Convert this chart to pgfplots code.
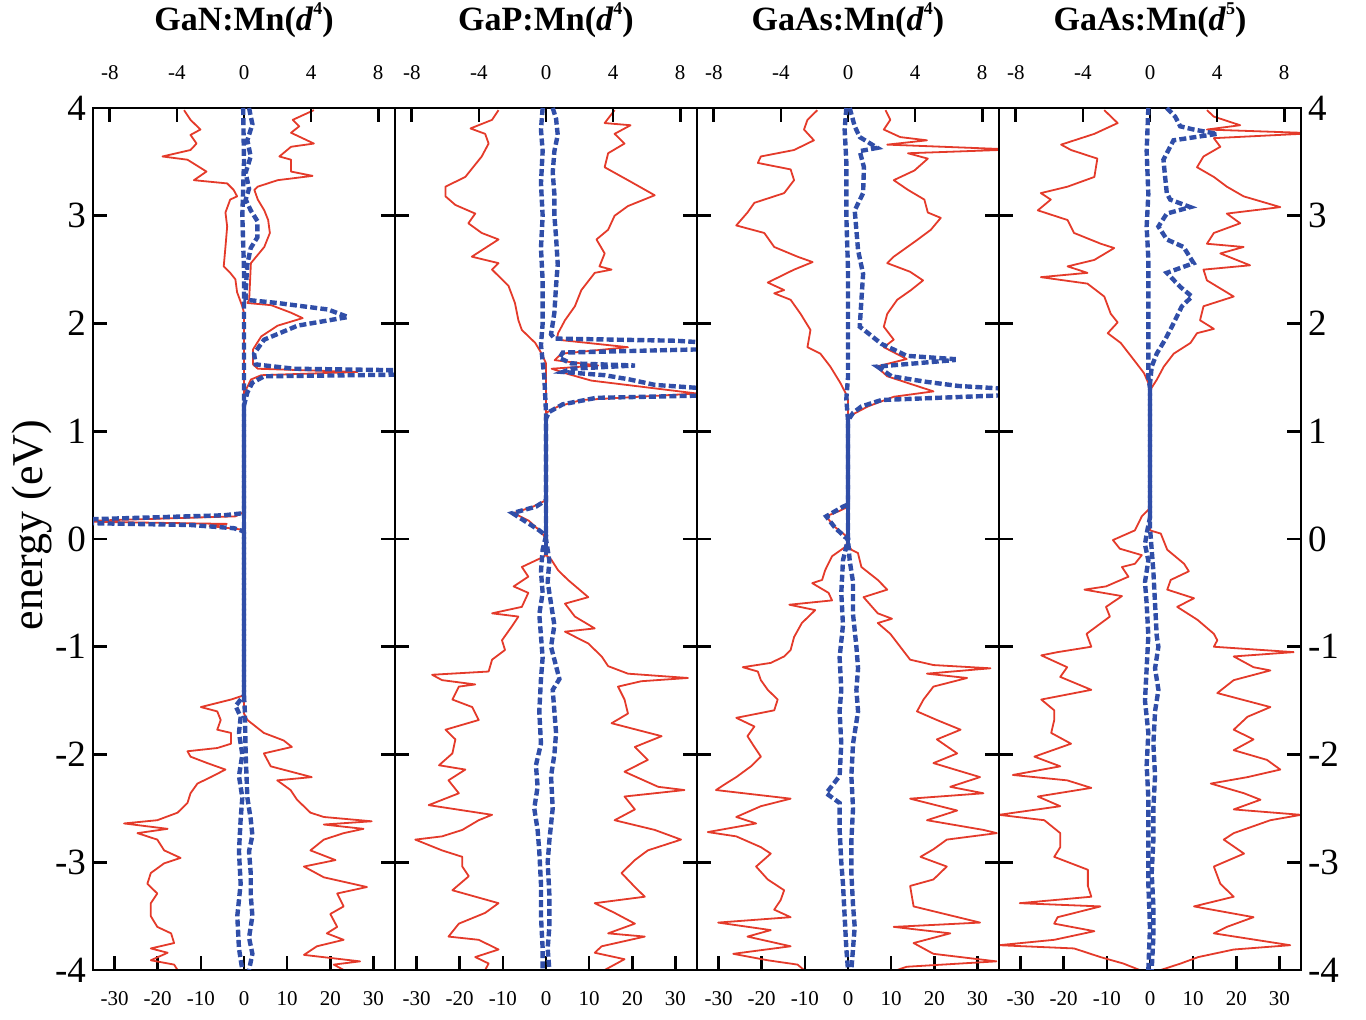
\documentclass[border=0pt]{standalone}
\usepackage{fontspec}
\setmainfont{Liberation Serif}
\usepackage{pgfplots}
\pgfplotsset{compat=1.18}
\definecolor{dosred}{RGB}{228,58,42}
\definecolor{dosblue}{RGB}{48,78,168}

\pgfplotsset{
  panel/.style={scale only axis, width=151pt, height=431pt, ymin=-4, ymax=4,
    anchor=south west, tick align=inside, major tick length=7pt,
    axis line style={line width=1.4pt},
    xtick style={line width=1.3pt, black},
    ytick style={line width=1.3pt, black},
    tick label style={/pgf/number format/assume math mode=true}},
  totdos/.style={panel, xmin=-35, xmax=35, xtick={-30,-20,...,30},
    xtick pos=bottom, ytick={-4,...,4}, ytick pos=both,
    xticklabel style={font=\fontsize{10.5}{12}\selectfont, anchor=base, yshift=-18pt},
    yticklabel style={font=\fontsize{18.5}{22}\selectfont}},
  mndos/.style={panel, xmin=-9, xmax=9, xtick={-8,-4,...,8},
    xtick pos=top, xticklabel pos=top, ytick=\empty,
    xticklabel style={font=\fontsize{10.5}{12}\selectfont, anchor=base, yshift=14pt},
    every axis title/.style={at={(axis description cs:0.5,1)}, anchor=center,
      yshift=44pt, font=\fontsize{17}{20}\selectfont\bfseries}},
  redline/.style={dosred, line width=0.9pt, line join=round},
  blueline/.style={dosblue, line width=2.2pt, dash pattern=on 3.5pt off 1.6pt},
  bluesolid/.style={dosblue, line width=2pt},
}
\newcommand{\supnum}[1]{\raisebox{1.0ex}{\fontsize{9}{9}\selectfont #1}}

\begin{document}
\begin{tikzpicture}
\path[use as bounding box] (0,0) rectangle (683pt,510pt);

% ---------------- GaN:Mn(d4) ----------------
\begin{axis}[totdos, at={(46.5pt,25pt)}, yticklabel pos=left,
  ylabel={energy (eV)},
  every axis y label/.style={at={(axis description cs:-0.202,0.516)},
    rotate=90, anchor=center, font=\fontsize{22}{26}\selectfont}]
% spin up total
\addplot[redline] coordinates {
(16.2,3.98)(11.3,3.89)(12.8,3.83)(10.9,3.77)(16.2,3.67)(10.9,3.64)(8.2,3.55)(10.9,3.52)
(10.9,3.41)(15.9,3.37)(7.8,3.33)(3.2,3.27)(2.4,3.24)(3.2,3.15)(4.7,3.05)(5.6,2.96)
(6.0,2.84)(4.7,2.71)(1.6,2.56)(1.2,2.22)(0.8,2.19)(6.3,2.17)(10.9,2.10)(13.6,2.05)
(7.8,1.98)(4.0,1.88)(2.1,1.76)(2.1,1.62)(3.2,1.58)(26.3,1.55)(4.0,1.52)(1.6,1.48)
(0.4,1.38)(0,1.29)(0,-1.62)(0.8,-1.68)(4.6,-1.80)(9.2,-1.87)(11.1,-1.93)(4.6,-1.99)
(6.2,-2.11)(15.7,-2.21)(7.7,-2.24)(10.8,-2.33)(12.3,-2.42)(15.4,-2.54)(18.5,-2.58)
(29.6,-2.62)(18.5,-2.65)(27.7,-2.69)(23.1,-2.73)(18.5,-2.79)(15.4,-2.89)(21.2,-2.98)
(13.9,-3.04)(18.5,-3.14)(28.5,-3.23)(21.6,-3.29)(23.1,-3.41)(20.0,-3.48)(21.6,-3.60)
(19.2,-3.66)(23.1,-3.72)(16.9,-3.78)(13.9,-3.86)(26.9,-3.92)(20.8,-3.95)(23.1,-4.0)
};
% spin down total
\addplot[redline] coordinates {
(-13.9,3.98)(-12.4,3.89)(-10.1,3.80)(-12.4,3.75)(-11,3.67)(-12.4,3.61)(-18.9,3.55)
(-13.1,3.52)(-8.7,3.41)(-11.6,3.33)(-3.9,3.30)(-2.4,3.24)(-1.6,3.18)(-3.2,3.15)
(-4.3,3.03)(-3.9,2.90)(-4.3,2.71)(-4.7,2.53)(-3.2,2.47)(-2.0,2.41)(-1.6,2.29)
(-0.4,2.16)(0,2.10)(0,0.25)(-2,0.21)(-35,0.17)(-35,0.16)(-4,0.14)(-8,0.12)(-1,0.09)
(0,0.07)(0,-1.45)(-3.0,-1.49)(-10.0,-1.56)(-6.2,-1.60)(-5.4,-1.68)(-6.2,-1.77)
(-3.0,-1.80)(-3.0,-1.90)(-6.2,-1.94)(-13.1,-1.97)(-12.4,-2.02)(-8.5,-2.08)(-4.3,-2.14)
(-7.7,-2.21)(-10.8,-2.27)(-12.4,-2.36)(-13.1,-2.45)(-15.4,-2.54)(-20.1,-2.61)
(-27.8,-2.64)(-17.7,-2.69)(-24.7,-2.73)(-20.1,-2.79)(-18.5,-2.89)(-14.7,-2.96)
(-18.5,-3.01)(-21.6,-3.10)(-22.4,-3.20)(-20.1,-3.29)(-21.6,-3.38)(-21.6,-3.50)
(-20.1,-3.60)(-16.9,-3.66)(-16.2,-3.75)(-21.6,-3.80)(-17.7,-3.84)(-21.6,-3.91)
(-16.2,-3.95)(-15.4,-4.0)
};
\end{axis}
\begin{axis}[mndos, at={(46.5pt,25pt)}, title={GaN:Mn(\textit{d}\supnum{4})}]
\addplot[blueline] coordinates {
(0.3,4.0)(0.5,3.85)(0.2,3.7)(0.4,3.55)(0.1,3.4)(0.3,3.25)(0.1,3.15)(0.4,3.05)
(0.8,2.95)(0.8,2.8)(0.4,2.7)(0.2,2.55)(0.1,2.3)(0.1,2.22)(2.0,2.19)(5.0,2.13)
(6.2,2.06)(3.2,1.98)(1.2,1.85)(0.6,1.72)(0.7,1.62)(3,1.58)(12,1.56)(12,1.53)
(1.2,1.51)(0.5,1.45)(0.2,1.36)(0,1.24)(0,-1.45)(0.05,-1.6)(0.1,-2.0)(0.2,-2.4)
(0.4,-2.6)(0.5,-2.75)(0.3,-2.9)(0.4,-3.1)(0.4,-3.3)(0.5,-3.5)(0.3,-3.7)(0.5,-3.85)
(0.3,-4.0)
};
\addplot[blueline] coordinates {
(-0.05,4.0)(0,3.5)(-0.1,3.0)(0,2.5)(0,0.24)(-1.2,0.22)(-12,0.17)(-12,0.155)
(-3.2,0.13)(-0.6,0.10)(0,0.07)(0,-1.45)(-0.5,-1.55)(-0.2,-1.65)(-0.3,-1.8)
(-0.1,-2.0)(-0.3,-2.2)(-0.1,-2.4)(-0.2,-2.6)(-0.3,-2.9)(-0.2,-3.2)(-0.4,-3.5)
(-0.3,-3.8)(-0.1,-4.0)
};
\addplot[bluesolid] coordinates {(0,-1.45)(0,1.24)};
\end{axis}

% ---------------- GaP:Mn(d4) ----------------
\begin{axis}[totdos, at={(197.5pt,25pt)}, yticklabels={}]
\addplot[redline] coordinates {
(15.9,3.98)(13.6,3.86)(19.6,3.84)(15.9,3.76)(18.2,3.67)(14.4,3.58)(13.6,3.45)
(19.0,3.33)(25.2,3.19)(19.0,3.09)(15.9,3.0)(14.4,2.87)(11.7,2.78)(13.6,2.65)
(12.4,2.53)(15.2,2.50)(11.3,2.47)(8.2,2.31)(6.7,2.16)(4.4,2.03)(2.8,1.91)(2.5,1.85)
(19.0,1.78)(3.6,1.72)(2.0,1.66)(12.1,1.61)(1.3,1.58)(5.2,1.53)(10.5,1.47)(35,1.35)
(8.2,1.29)(2.8,1.23)(0,1.17)(0,-0.15)(1.2,-0.19)(2.8,-0.29)(5.1,-0.38)(9.8,-0.54)
(4.4,-0.60)(6.7,-0.72)(11.3,-0.83)(4.4,-0.86)(9.8,-0.97)(12.9,-1.09)(14.4,-1.18)
(19.0,-1.25)(32.9,-1.29)(22.1,-1.32)(16.7,-1.37)(18.2,-1.49)(19.0,-1.62)(15.2,-1.71)
(26.8,-1.83)(20.6,-1.93)(23.6,-2.05)(18.2,-2.16)(26.0,-2.30)(32.1,-2.33)(18.2,-2.39)
(20.6,-2.51)(15.9,-2.61)(25.2,-2.70)(31.3,-2.79)(23.6,-2.89)(20.6,-2.98)(17.5,-3.10)
(20.6,-3.23)(22.9,-3.32)(11.3,-3.38)(15.9,-3.47)(20.6,-3.57)(14.4,-3.66)(22.9,-3.69)
(12.9,-3.78)(11.3,-3.84)(18.2,-3.90)(13.6,-4.0)
};
\addplot[redline] coordinates {
(-11.0,3.98)(-12.5,3.89)(-17.5,3.81)(-14.1,3.76)(-13.3,3.67)(-14.9,3.55)(-18.7,3.36)
(-23.3,3.27)(-23.3,3.18)(-21.0,3.10)(-16.4,3.02)(-18.0,2.93)(-14.9,2.84)(-11.0,2.78)
(-17.2,2.62)(-11.0,2.56)(-12.5,2.50)(-8.7,2.35)(-7.2,2.19)(-6.4,2.03)(-5.6,1.94)
(-2.5,1.82)(-1.0,1.72)(0,1.63)(0,0.36)(-3,0.30)(-7.5,0.24)(-4,0.17)(-1,0.06)(0,0.0)
(-0.3,-0.16)(-5.6,-0.26)(-4.1,-0.35)(-7.5,-0.44)(-4.1,-0.50)(-5.6,-0.63)(-12.5,-0.69)
(-6.4,-0.72)(-7.9,-0.81)(-10.2,-0.94)(-9.5,-1.03)(-12.5,-1.12)(-13.3,-1.23)
(-26.4,-1.26)(-24.1,-1.31)(-16.4,-1.35)(-20.2,-1.37)(-21.7,-1.49)(-17.1,-1.56)
(-15.6,-1.68)(-23.3,-1.77)(-21.0,-1.86)(-21.7,-1.99)(-24.8,-2.10)(-18.7,-2.14)
(-22.6,-2.24)(-20.2,-2.36)(-27.2,-2.47)(-12.5,-2.56)(-15.6,-2.61)(-19.4,-2.70)
(-24.1,-2.76)(-30.3,-2.79)(-24.1,-2.89)(-19.4,-2.95)(-19.4,-3.04)(-17.9,-3.13)
(-21.7,-3.26)(-11.0,-3.38)(-14.1,-3.47)(-20.2,-3.57)(-22.6,-3.69)(-15.6,-3.72)
(-11.0,-3.81)(-16.4,-3.88)(-13.3,-3.94)(-14.1,-4.0)
};
\end{axis}
\begin{axis}[mndos, at={(197.5pt,25pt)}, title={GaP:Mn(\textit{d}\supnum{4})}]
\addplot[blueline] coordinates {
(0.4,4.0)(0.6,3.9)(0.7,3.75)(0.5,3.6)(0.4,3.4)(0.5,3.2)(0.5,3.0)(0.6,2.8)(0.7,2.55)
(0.6,2.35)(0.5,2.1)(0.3,1.90)(0.5,1.86)(7.7,1.84)(12,1.80)(12,1.77)(1.0,1.73)
(0.8,1.68)(1.5,1.63)(5.3,1.61)(1.5,1.58)(1.0,1.55)(3.5,1.52)(5.0,1.48)(6.5,1.43)
(12,1.37)(12,1.34)(3.0,1.31)(1.0,1.25)(0.2,1.18)(0,1.12)(0,0.0)(0.2,-0.2)(0.1,-0.4)
(0.3,-0.6)(0.5,-0.8)(0.3,-1.0)(0.8,-1.3)(0.4,-1.4)(0.5,-1.6)(0.6,-1.8)(0.5,-2.0)
(0.3,-2.2)(0.4,-2.5)(0.2,-2.8)(0.1,-3.0)(0.2,-3.3)(0.2,-3.6)(0.1,-3.8)(0.2,-4.0)
};
\addplot[blueline] coordinates {
(-0.2,4.0)(-0.3,3.8)(-0.2,3.6)(-0.3,3.3)(-0.2,3.0)(-0.3,2.7)(-0.2,2.4)(-0.2,2.0)
(-0.3,1.8)(-0.1,1.5)(0,1.17)(0,0.36)(-0.6,0.30)(-2.0,0.24)(-1.2,0.16)(-0.4,0.08)
(0,0.03)(-0.2,-0.1)(-0.3,-0.3)(-0.2,-0.5)(-0.4,-0.7)(-0.3,-0.9)(-0.2,-1.1)(-0.3,-1.3)
(-0.4,-1.6)(-0.3,-1.9)(-0.6,-2.1)(-0.5,-2.3)(-0.7,-2.5)(-0.5,-2.7)(-0.4,-2.9)
(-0.3,-3.2)(-0.3,-3.5)(-0.2,-3.8)(-0.2,-4.0)
};
\addplot[bluesolid] coordinates {(0,-0.15)(0,1.15)};
\end{axis}

% ---------------- GaAs:Mn(d4) ----------------
\begin{axis}[totdos, at={(348.5pt,25pt)}, yticklabels={}]
\addplot[redline] coordinates {
(8.7,3.98)(9.8,3.89)(8.3,3.80)(12.1,3.73)(18.3,3.70)(9.1,3.66)(35,3.62)(35,3.61)
(13.9,3.58)(18.5,3.53)(15.4,3.42)(10.6,3.33)(13.9,3.24)(17.7,3.15)(18.5,3.03)
(21.5,2.98)(19.2,2.87)(16.2,2.78)(10.6,2.62)(9.1,2.56)(14.4,2.48)(17.4,2.40)
(14.6,2.31)(11.4,2.22)(9.1,2.09)(8.3,1.97)(10.6,1.85)(8.3,1.78)(13.6,1.67)(6.6,1.60)
(9.1,1.51)(15.2,1.43)(19.8,1.37)(10.6,1.32)(4.6,1.23)(0.8,1.15)(0,1.10)(0,-0.05)
(0.8,-0.10)(2.3,-0.13)(3.1,-0.26)(6.9,-0.38)(9.1,-0.47)(3.6,-0.54)(6.9,-0.69)
(10.2,-0.74)(6.9,-0.78)(9.8,-0.88)(12.1,-1.00)(14.4,-1.12)(19.8,-1.17)(33.0,-1.20)
(18.3,-1.25)(27.6,-1.29)(19.8,-1.37)(17.5,-1.49)(16.0,-1.60)(20.6,-1.68)(26.1,-1.77)
(20.6,-1.86)(25.3,-1.99)(19.8,-2.08)(30.6,-2.21)(23.7,-2.30)(31.4,-2.36)(14.4,-2.41)
(25.3,-2.52)(18.3,-2.61)(31.4,-2.70)(34.5,-2.73)(22.9,-2.79)(19.8,-2.88)(16.8,-2.95)
(22.9,-3.04)(19.8,-3.16)(14.4,-3.22)(15.2,-3.41)(30.6,-3.56)(10.6,-3.60)(23.7,-3.66)
(15.2,-3.75)(19.8,-3.85)(34.4,-3.92)(13.6,-3.97)(11.4,-4.0)
};
\addplot[redline] coordinates {
(-7.1,3.98)(-9.4,3.89)(-10.2,3.80)(-7.9,3.70)(-12.5,3.61)(-20.2,3.55)(-20.9,3.49)
(-13.3,3.43)(-12.5,3.33)(-14.8,3.21)(-21.7,3.12)(-23.3,3.03)(-25.9,2.91)(-19.4,2.84)
(-17.1,2.71)(-11.7,2.62)(-8.2,2.57)(-12.5,2.50)(-18.6,2.38)(-14.8,2.31)(-17.1,2.28)
(-13.3,2.22)(-11.0,2.09)(-8.7,1.94)(-9.4,1.78)(-6.4,1.72)(-4.1,1.60)(-1.8,1.45)
(-0.5,1.35)(0,1.29)(0,0.30)(-2,0.26)(-5.1,0.21)(-3,0.11)(-0.5,0.03)(0,0.0)
(-0.5,-0.07)(-3.7,-0.16)(-5.3,-0.29)(-6.0,-0.38)(-8.3,-0.41)(-4.5,-0.50)(-3.7,-0.57)
(-13.6,-0.61)(-7.6,-0.66)(-10.7,-0.78)(-12.5,-0.91)(-13.3,-1.03)(-14.8,-1.09)
(-17.9,-1.15)(-24.4,-1.19)(-20.9,-1.23)(-20.2,-1.31)(-18.6,-1.40)(-16.3,-1.49)
(-17.1,-1.59)(-25.9,-1.66)(-21.7,-1.74)(-23.3,-1.83)(-21.7,-1.93)(-20.2,-2.02)
(-22.5,-2.11)(-25.9,-2.21)(-28.3,-2.27)(-30.6,-2.33)(-13.3,-2.41)(-20.2,-2.48)
(-25.9,-2.58)(-21.3,-2.64)(-32.5,-2.72)(-25.9,-2.76)(-20.2,-2.86)(-17.9,-2.92)
(-21.3,-3.04)(-18.6,-3.16)(-14.8,-3.26)(-15.6,-3.35)(-17.1,-3.44)(-13.3,-3.51)
(-30.1,-3.56)(-17.9,-3.63)(-23.3,-3.69)(-13.3,-3.78)(-26.6,-3.85)(-18.6,-3.91)
(-11.7,-3.95)(-10.2,-4.0)
};
\end{axis}
\begin{axis}[mndos, at={(348.5pt,25pt)}, title={GaAs:Mn(\textit{d}\supnum{4})}]
\addplot[blueline] coordinates {
(0.1,4.0)(0.4,3.83)(0.7,3.73)(1.75,3.63)(0.7,3.60)(0.95,3.45)(0.9,3.21)(0.4,3.05)
(0.6,2.68)(0.9,2.46)(0.8,2.22)(0.7,1.97)(1.2,1.91)(2.0,1.81)(2.7,1.76)(3.5,1.70)
(6.3,1.67)(6.3,1.66)(1.75,1.60)(2.6,1.51)(4.6,1.46)(6.6,1.42)(12,1.37)(12,1.35)
(2.0,1.29)(0.8,1.23)(0.3,1.17)(0,1.10)(0,0.0)(0.1,-0.2)(0.3,-0.4)(0.3,-0.7)(0.5,-1.0)
(0.6,-1.2)(0.5,-1.4)(0.6,-1.6)(0.3,-1.9)(0.2,-2.2)(0.3,-2.5)(0.2,-2.8)(0.2,-3.1)
(0.3,-3.4)(0.4,-3.6)(0.3,-3.8)(0.2,-4.0)
};
\addplot[blueline] coordinates {
(-0.1,4.0)(-0.2,3.8)(-0.1,3.5)(-0.1,3.0)(0,2.5)(0,2.0)(0,1.5)(-0.1,1.3)(0,1.1)
(0,0.32)(-0.3,0.30)(-1.3,0.21)(-0.8,0.11)(-0.2,0.02)(0,0.0)(-0.3,-0.2)(-0.4,-0.5)
(-0.3,-0.8)(-0.5,-1.1)(-0.4,-1.4)(-0.5,-1.6)(-0.4,-1.9)(-0.5,-2.2)(-1.3,-2.36)
(-0.5,-2.45)(-0.5,-2.7)(-0.4,-3.0)(-0.3,-3.2)(-0.2,-3.5)(-0.1,-3.8)(0,-4.0)
};
\addplot[bluesolid] coordinates {(0,-0.05)(0,1.12)};
\end{axis}

% ---------------- GaAs:Mn(d5) ----------------
\begin{axis}[totdos, at={(499.5pt,25pt)}, yticklabel pos=right]
\addplot[redline] coordinates {
(13.2,3.98)(14.8,3.92)(20.9,3.84)(13.2,3.80)(35,3.77)(35,3.76)(14.8,3.72)(16.3,3.64)
(12.4,3.55)(10.9,3.45)(14.8,3.36)(17.8,3.27)(21.7,3.18)(30.2,3.08)(17.8,3.02)
(20.9,2.93)(14.8,2.84)(13.2,2.74)(21.7,2.71)(16.3,2.65)(23.2,2.54)(12.4,2.50)
(13.2,2.40)(19.4,2.25)(12.4,2.16)(11.6,2.03)(14.8,1.95)(10.9,1.91)(9.4,1.82)(5.5,1.72)
(3.2,1.60)(1.6,1.48)(0,1.38)(0,0.08)(2.5,0.05)(4.0,-0.10)(7.9,-0.23)(9.0,-0.30)
(4.8,-0.38)(4.0,-0.47)(10.2,-0.55)(6.3,-0.63)(11.0,-0.75)(14.8,-0.88)(15.6,-0.94)
(14.8,-1.00)(33.3,-1.05)(19.4,-1.09)(24.0,-1.19)(27.9,-1.22)(19.4,-1.31)(15.6,-1.43)
(27.9,-1.56)(22.6,-1.65)(19.4,-1.77)(24.0,-1.86)(19.4,-1.96)(27.1,-2.05)(30.2,-2.14)
(22.6,-2.21)(14.1,-2.27)(21.8,-2.36)(25.6,-2.42)(19.4,-2.51)(35,-2.56)(27.9,-2.61)
(19.4,-2.73)(17.1,-2.79)(21.8,-2.92)(14.8,-3.04)(16.3,-3.20)(19.4,-3.32)(10.2,-3.41)
(24.0,-3.51)(17.8,-3.60)(14.8,-3.66)(32.5,-3.77)(19.4,-3.81)(11.2,-3.88)(7.1,-3.94)
(2.5,-4.0)
};
\addplot[redline] coordinates {
(-10.6,3.98)(-7.5,3.86)(-12.9,3.76)(-20.6,3.66)(-18.3,3.61)(-12.2,3.53)(-12.9,3.36)
(-19.1,3.27)(-25.3,3.21)(-23.0,3.15)(-26.0,3.05)(-19.1,2.96)(-17.6,2.84)(-11.4,2.74)
(-8.3,2.70)(-12.9,2.59)(-19.1,2.53)(-14.5,2.47)(-25.3,2.43)(-14.5,2.37)(-10.6,2.25)
(-9.1,2.09)(-7.5,2.01)(-9.8,1.91)(-6.8,1.82)(-3.7,1.66)(-1.4,1.54)(-0.3,1.44)(0,1.38)
(0,0.30)(-0.4,0.27)(-1.9,0.21)(-3.5,0.08)(-8.6,-0.01)(-7.0,-0.09)(-1.9,-0.15)
(-3.5,-0.23)(-6.5,-0.26)(-5.0,-0.35)(-10.2,-0.44)(-15.2,-0.47)(-6.5,-0.53)(-10.2,-0.63)
(-9.3,-0.72)(-14.7,-0.88)(-13.6,-1.00)(-21.4,-1.05)(-25.2,-1.08)(-19.2,-1.19)
(-20.8,-1.28)(-13.6,-1.40)(-25.2,-1.49)(-22.2,-1.59)(-22.2,-1.68)(-22.9,-1.80)
(-18.3,-1.90)(-26.8,-2.02)(-20.8,-2.11)(-31.8,-2.19)(-19.2,-2.24)(-13.6,-2.31)
(-26.0,-2.39)(-20.8,-2.48)(-35,-2.56)(-24.5,-2.61)(-20.8,-2.73)(-20.8,-2.86)
(-22.2,-2.95)(-14.4,-3.07)(-14.4,-3.22)(-13.6,-3.32)(-30.2,-3.38)(-11.5,-3.41)
(-21.4,-3.51)(-22.2,-3.57)(-12.9,-3.64)(-22.2,-3.72)(-35,-3.77)(-17.6,-3.80)
(-11.5,-3.88)(-6.2,-3.94)(-2.4,-4.0)
};
\end{axis}
\begin{axis}[mndos, at={(499.5pt,25pt)}, title={GaAs:Mn(\textit{d}\supnum{5})}]
\addplot[blueline] coordinates {
(1.0,4.0)(1.5,3.92)(1.8,3.83)(2.6,3.80)(4.0,3.76)(1.4,3.70)(1.1,3.61)(0.8,3.52)
(0.9,3.36)(1.0,3.21)(1.2,3.15)(2.4,3.08)(1.0,3.02)(0.5,2.90)(1.0,2.78)(2.0,2.71)
(2.6,2.56)(1.0,2.47)(1.8,2.34)(2.5,2.25)(1.9,2.16)(1.3,1.97)(0.9,1.85)(0.4,1.72)
(0.1,1.60)(0,1.44)(0,0.1)(0.1,-0.1)(0.2,-0.3)(0.3,-0.6)(0.4,-0.9)(0.5,-1.0)(0.3,-1.2)
(0.5,-1.4)(0.3,-1.6)(0.2,-1.9)(0.3,-2.2)(0.2,-2.5)(0.2,-2.8)(0.1,-3.1)(0.2,-3.4)
(0.2,-3.7)(0.1,-4.0)
};
\addplot[blueline] coordinates {
(-0.1,4.0)(-0.2,3.6)(-0.1,3.2)(-0.2,2.9)(-0.1,2.6)(-0.1,2.2)(-0.1,1.8)(-0.1,1.5)
(0,1.4)(0,0.2)(-0.2,0.05)(-0.3,-0.05)(-0.1,-0.2)(-0.3,-0.4)(-0.2,-0.6)(-0.1,-0.9)
(-0.2,-1.2)(-0.3,-1.5)(-0.1,-1.8)(-0.2,-2.1)(-0.1,-2.4)(-0.1,-2.8)(-0.1,-3.2)
(0,-3.6)(-0.1,-4.0)
};
\end{axis}
\end{tikzpicture}
\end{document}
